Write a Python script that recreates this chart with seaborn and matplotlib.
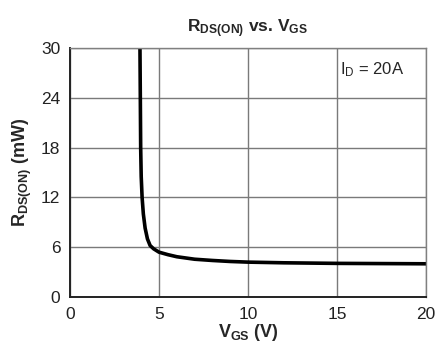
import matplotlib
matplotlib.use("Agg")
import matplotlib.pyplot as plt
import seaborn as sns
import pandas as pd

vgs = [3.93, 3.95, 3.97, 4.0, 4.05, 4.12, 4.22, 4.35, 4.5, 4.7, 5.0, 5.5, 6.0, 7.0, 8.0, 9.0, 10.0, 12.0, 15.0, 20.0]
rds = [30.0, 24.0, 18.0, 14.5, 12.0, 10.0, 8.3, 7.0, 6.2, 5.8, 5.4, 5.1, 4.85, 4.55, 4.4, 4.28, 4.2, 4.12, 4.05, 4.0]
xticks = [0, 5, 10, 15, 20]
yticks = [0, 6, 12, 18, 24, 30]

sns.set_theme(style="white")
plt.rcParams['font.family'] = ['Liberation Sans', 'DejaVu Sans']
plt.rcParams['mathtext.fontset'] = 'custom'
plt.rcParams['mathtext.rm'] = 'Liberation Sans'
plt.rcParams['mathtext.it'] = 'Liberation Sans:italic'
plt.rcParams['mathtext.bf'] = 'Liberation Sans:bold'

fig = plt.figure(figsize=(4.36, 3.48), dpi=100)
ax = fig.add_axes([0.1606, 0.1466, 0.8164, 0.7154])

df = pd.DataFrame({"vgs": vgs, "rds": rds})
sns.lineplot(data=df, x="vgs", y="rds", sort=False, color="black", linewidth=2.6, ax=ax)

ax.set_xlim(0, 20)
ax.set_ylim(0, 30)
ax.set_xticks(xticks)
ax.set_yticks(yticks)
ax.set_xticklabels([str(t) for t in xticks], fontsize=12.5)
ax.set_yticklabels([str(t) for t in yticks], fontsize=12.5)
ax.grid(True, color="#7a7a7a", linewidth=1.0)
ax.tick_params(axis="both", length=0, pad=7, colors="#222222")
for s in ["top", "right"]:
    ax.spines[s].set_color("#808080")
    ax.spines[s].set_linewidth(1.0)
for s in ["left", "bottom"]:
    ax.spines[s].set_color("#222222")
    ax.spines[s].set_linewidth(1.4)

ax.set_xlabel(r"V$_{\mathbf{GS}}$ (V)", fontsize=13, fontweight="bold", labelpad=0)
ax.set_ylabel(r"R$_{\mathbf{DS(ON)}}$ (mW)", fontsize=13, fontweight="bold", labelpad=5)
ax.set_title(r"R$_{\mathbf{DS(ON)}}$ vs. V$_{\mathbf{GS}}$", fontsize=12.5, fontweight="bold", pad=11)
ax.text(0.758, 0.915, r"I$_{\mathrm{D}}$ = 20A", transform=ax.transAxes, fontsize=12, va="center", ha="left")

fig.savefig("out.png", dpi=100)
